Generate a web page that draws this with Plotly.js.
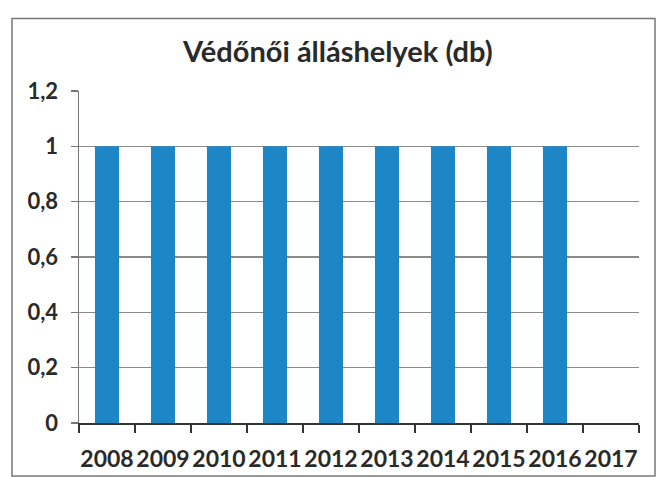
<!DOCTYPE html>
<html><head><meta charset="utf-8">
<script src="https://cdn.plot.ly/plotly-3.0.1.min.js"></script>
<style>html,body{margin:0;padding:0;background:#fff}#c{width:656px;height:477px}</style>
</head><body><div id="c"></div>
<script>
const years = ['2008','2009','2010','2011','2012','2013','2014','2015','2016','2017'];
const values = [1,1,1,1,1,1,1,1,1,0];
const yTicks = [0,0.2,0.4,0.6,0.8,1,1.2];
const yTickLabels = ['0','0,2','0,4','0,6','0,8','1','1,2'];
const titleText = 'Védőnői álláshelyek (db)';

const L=79,R=17,T=90.5,B=54,W=656,H=477;
const pw=W-L-R, ph=H-T-B;
const px = x => (x-L)/pw, py = y => (H-B-y)/ph;

Plotly.newPlot('c',[{
  type:'bar', x:years, y:values, marker:{color:'#1c86c6'}, width:0.43
}],{
  width:W,height:H,margin:{l:L,r:R,t:T,b:B},
  paper_bgcolor:'#fff',plot_bgcolor:'#fff',showlegend:false,
  font:{family:'Lato, "Open Sans", sans-serif',color:'#222'},
  title:{text:titleText,x:0.515,xanchor:'center',y:1-52/H,yanchor:'middle',
    font:{size:29,color:'#2a2a2a',family:'Lato, sans-serif',weight:'bold'}},
  xaxis:{type:'category',tickson:'boundaries',ticks:'outside',ticklen:8,tickcolor:'#333',tickwidth:1.5,
    showline:true,linecolor:'#333',linewidth:1.5,showgrid:false,ticklabelstandoff:15,
    tickfont:{size:23,family:'Lato, sans-serif',color:'#2a2a2a',weight:'bold'},tickangle:0},
  yaxis:{range:[0,1.2],tickvals:yTicks,ticktext:yTickLabels,
    showline:true,linecolor:'#777',linewidth:1.5,ticks:'outside',ticklen:7,tickcolor:'#777',tickwidth:1.5,
    showgrid:true,gridcolor:'#8a8a8a',gridwidth:1.5,zeroline:false,ticklabelstandoff:8,
    tickfont:{size:22,family:'Lato, sans-serif',color:'#2a2a2a',weight:'bold'}},
  bargap:0.57,
  shapes:[{type:'rect',xref:'paper',yref:'paper',x0:px(12),x1:px(655),y0:py(476),y1:py(18),
    line:{color:'#777',width:1.5},fillcolor:'rgba(0,0,0,0)',layer:'below'}]
},{displayModeBar:false,staticPlot:true});
</script></body></html>
